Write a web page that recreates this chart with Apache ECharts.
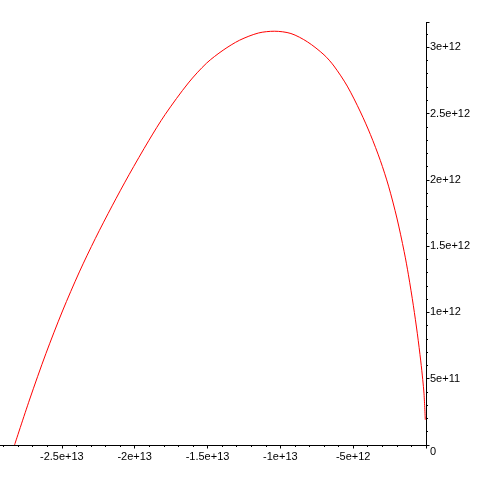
<!DOCTYPE html>
<html>
<head>
<meta charset="utf-8">
<script src="https://cdn.jsdelivr.net/npm/echarts@6/dist/echarts.min.js"></script>
<style>
html,body{margin:0;padding:0;background:#fff;overflow:hidden;}
#c{position:absolute;left:-14px;top:0;width:497px;height:483px;}
</style>
</head>
<body>
<div id="c"></div>
<script>
const xVals = [-2.8247e13,-2.7224e13,-2.6093e13,-2.4954e13,-2.3795e13,-2.2704e13,-2.1545e13,-2.0386e13,-1.9022e13,
  -1.7911e13,-1.6316e13,-1.5068e13,-1.3929e13,-1.2797e13,-1.1502e13,-1.0411e13,-9.272e12,-8.134e12,-7.002e12,
  -6.320e12,-5.407e12,-4.500e12,-3.818e12,-3.136e12,-2.570e12,-1.998e12,-1.500e12,-1.207e12,-8.66e11,
  -5.93e11,-3.61e11,-2.25e11,-1.36e11,-4.8e10];
const yVals = [0,3.392e11,6.897e11,1.0108e12,1.3056e12,1.5566e12,1.8038e12,2.0383e12,2.2976e12,
  2.4921e12,2.7303e12,2.8795e12,2.9775e12,3.0529e12,3.1072e12,3.1207e12,3.1034e12,3.0401e12,2.9428e12,
  2.8584e12,2.7069e12,2.5117e12,2.3421e12,2.1461e12,1.9523e12,1.7119e12,1.4586e12,1.2837e12,1.0500e12,
  8.390e11,6.339e11,4.937e11,3.859e11,1.900e11];
const xTickValues = [-2.5e13,-2e13,-1.5e13,-1e13,-5e12];
const xTickLabels = ['-2.5e+13','-2e+13','-1.5e+13','-1e+13','-5e+12'];
const yTickValues = [0,5e11,1e12,1.5e12,2e12,2.5e12,3e12];
const yTickLabels = ['0','5e+11','1e+12','1.5e+12','2e+12','2.5e+12','3e+12'];

function lookup(vals, labels, v){
  for (let i=0;i<vals.length;i++){ if (Math.abs(vals[i]-v) < 1e6) return labels[i]; }
  return '';
}

const chart = echarts.init(document.getElementById('c'));
const FONT = {color:'#000', fontSize:11, fontFamily:'Liberation Sans, Arial, sans-serif'};
chart.setOption({
  animation:false,
  backgroundColor:'#fff',
  grid:{left:0, right:57, top:22.7, bottom:38, containLabel:false},
  xAxis:{
    type:'value', min:-3e13, max:0, interval:5e12,
    axisLine:{show:true, onZero:false, lineStyle:{color:'#000', width:1}},
    axisTick:{show:true, length:3.5, lineStyle:{color:'#000'}},
    minorTick:{show:true, splitNumber:5, length:2, lineStyle:{color:'#000'}},
    splitLine:{show:false},
    axisLabel:Object.assign({margin:6, formatter:(v)=>lookup(xTickValues,xTickLabels,v)}, FONT)
  },
  yAxis:{
    type:'value', position:'right', min:0, max:3.185e12, interval:5e11,
    axisLine:{show:true, onZero:false, lineStyle:{color:'#000', width:1}},
    axisTick:{show:true, length:3.5, lineStyle:{color:'#000'}},
    minorTick:{show:true, splitNumber:5, length:2, lineStyle:{color:'#000'}},
    splitLine:{show:false},
    axisLabel:Object.assign({margin:4,
      formatter:(v)=>{ const s = lookup(yTickValues,yTickLabels,v); return v===0 ? '{z|'+s+'}' : s; },
      rich:{z:{padding:[14,0,0,0], color:'#000', fontSize:11, fontFamily:'Liberation Sans, Arial, sans-serif'}}
    }, FONT)
  },
  series:[{
    type:'line',
    data:xVals.map((x,i)=>[x,yVals[i]]),
    showSymbol:false, smooth:0.3,
    lineStyle:{color:'#ff0000', width:1},
    itemStyle:{color:'#ff0000'}
  }]
});
</script>
</body>
</html>
